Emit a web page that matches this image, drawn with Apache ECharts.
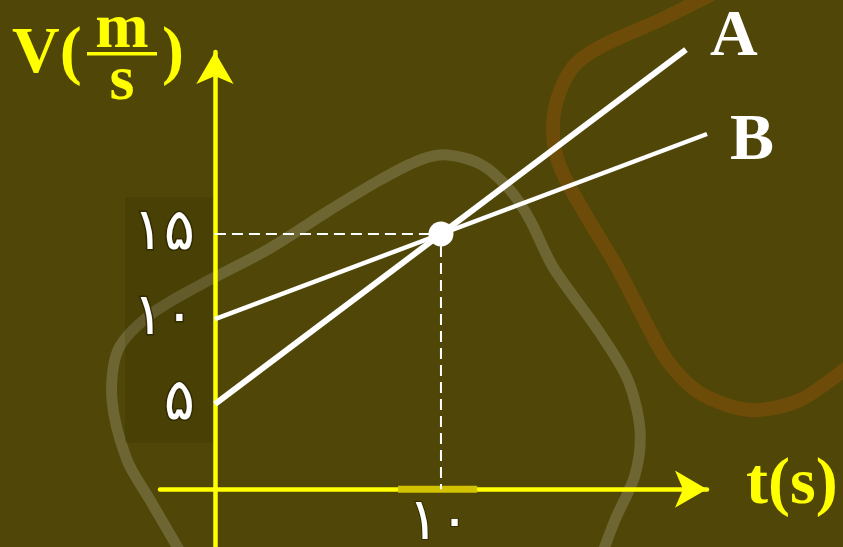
<!DOCTYPE html>
<html><head><meta charset="utf-8">
<script src="https://cdn.jsdelivr.net/npm/echarts@6/dist/echarts.min.js"></script>
<style>html,body{margin:0;padding:0;background:#4f4607;}#c{width:843px;height:547px;}</style>
</head><body><div id="c"></div>
<script>
// ---- data ----
const seriesNames = ['A', 'B'];
const lineA = [[0, 5], [20.84, 25.84]];
const lineB = [[0, 10], [21.77, 20.88]];
const meetPoint = [[10, 15]];
const guidePath = [[0, 15], [10, 15], [10, 0]];
const xHighlight = [[8.1, 0], [11.6, 0]];
const yTickValues = [5, 10, 15];
const yTickLabels = ['۵', '۱۰', '۱۵'];
const xTickValues = [10];
const xTickLabels = ['۱۰'];
const yAxisTitle = ['V(', 'm', 's', ')'];
const xAxisTitle = 't(s)';

const YEL = '#ffff00';
const serif = '"Liberation Serif", "Times New Roman", serif';
const digitFont = '"DejaVu Sans"';
const chart = echarts.init(document.getElementById('c'));

chart.setOption({
  animation: false,
  backgroundColor: '#4f4607',
  grid: { left: 160, right: 136, top: 52, bottom: 0, containLabel: false, outerBoundsMode: 'none' },
  xAxis: {
    type: 'value', min: -2.43, max: 21.77,
    splitLine: { show: false },
    axisLine: { onZero: true, symbol: ['none', 'arrow'], symbolSize: [28, 32],
      lineStyle: { color: YEL, width: 4.5 } },
    axisTick: { show: false },
    axisLabel: { show: false }
  },
  yAxis: {
    type: 'value', min: -3.4, max: 25.7,
    splitLine: { show: false },
    axisLine: { onZero: true, symbol: ['none', 'arrow'], symbolSize: [28, 32],
      lineStyle: { color: YEL, width: 4.5 } },
    axisTick: { show: false },
    axisLabel: {
      customValues: yTickValues,
      formatter: v => yTickLabels[yTickValues.indexOf(v)],
      color: '#ffffff', fontSize: 58, fontFamily: digitFont, margin: -35,
      textBorderColor: 'rgba(45,38,0,0.8)', textBorderWidth: 3
    }
  },
  graphic: [
    { id: 'deco1', type: 'polyline', z: -10, silent: true,
      shape: { smooth: 0.3, points: [[185,560],[150,500],[127,460],[112,400],[118,350],[150,315],[200,285],[267,250],[330,210],[380,180],[420,160],[448,155],[482,165],[510,190],[530,220],[553,267],[600,333],[628,380],[640,430],[635,475],[615,520],[600,560]] },
      style: { stroke: 'rgba(160,155,120,0.38)', lineWidth: 11, fill: null } },
    { id: 'deco2', type: 'polyline', z: -10, silent: true,
      shape: { smooth: 0.3, points: [[720,-10],[660,20],[600,47],[573,67],[557,100],[553,133],[560,167],[587,217],[617,267],[643,317],[667,360],[700,393],[750,410],[800,400],[850,365]] },
      style: { stroke: 'rgba(150,85,10,0.42)', lineWidth: 14, fill: null } },
    { id: 'deco3', type: 'rect', z: -9, silent: true, shape: { x: 125, y: 197, width: 88, height: 246 },
      style: { fill: 'rgba(40,34,0,0.15)' } },
    { id: 't1', type: 'text', style: { text: yAxisTitle[0], x: 12, y: 55, fill: YEL, font: 'bold 66px ' + serif, textAlign: 'left', textVerticalAlign: 'middle' } },
    { id: 't2', type: 'text', style: { text: yAxisTitle[1], x: 122, y: 30, fill: YEL, font: 'bold 64px ' + serif, textAlign: 'center', textVerticalAlign: 'middle' } },
    { id: 't3', type: 'rect', shape: { x: 87, y: 52, width: 70, height: 3.5 }, style: { fill: YEL } },
    { id: 't4', type: 'text', style: { text: yAxisTitle[2], x: 122, y: 82, fill: YEL, font: 'bold 64px ' + serif, textAlign: 'center', textVerticalAlign: 'middle' } },
    { id: 't5', type: 'text', style: { text: yAxisTitle[3], x: 162, y: 55, fill: YEL, font: 'bold 66px ' + serif, textAlign: 'left', textVerticalAlign: 'middle' } },
    { id: 't6', type: 'text', style: { text: xAxisTitle, x: 746, y: 486, fill: YEL, font: 'bold 66px ' + serif, textAlign: 'left', textVerticalAlign: 'middle' } }
  ],
  series: [
    { name: 'highlight', type: 'line', data: xHighlight, showSymbol: false, clip: false, z: 1,
      lineStyle: { color: '#d2c200', width: 7 } },
    { name: 'guide', type: 'line', data: guidePath, showSymbol: false, clip: false,
      lineStyle: { color: '#ffffff', width: 2, type: [11, 6] } },
    { name: seriesNames[0], type: 'line', data: lineA, showSymbol: false, clip: false,
      lineStyle: { color: '#ffffff', width: 6, cap: 'butt' },
      endLabel: { show: true, formatter: '{a}', distance: 0, offset: [24, -12],
        color: '#ffffff', fontSize: 66, fontWeight: 'bold', fontFamily: serif } },
    { name: seriesNames[1], type: 'line', data: lineB, showSymbol: false, clip: false,
      lineStyle: { color: '#ffffff', width: 4.5, cap: 'butt' },
      endLabel: { show: true, formatter: '{a}', distance: 0, offset: [23, 8],
        color: '#ffffff', fontSize: 66, fontWeight: 'bold', fontFamily: serif } },
    { name: 'meet', type: 'scatter', data: meetPoint, symbol: 'circle', symbolSize: 25, z: 5,
      itemStyle: { color: '#ffffff', opacity: 1 } }
  ]
});

// x tick labels placed through the chart's own scale
chart.setOption({
  graphic: xTickValues.map((v, i) => {
    const p = chart.convertToPixel({ gridIndex: 0 }, [v, 0]);
    return { id: 'xtick' + i, type: 'text', z: 10,
      style: { text: xTickLabels[i], x: p[0] - 2, y: p[1] + 35,
        fill: '#ffffff', font: '58px ' + digitFont, textAlign: 'center', textVerticalAlign: 'middle',
        stroke: 'rgba(45,38,0,0.8)', lineWidth: 2 } };
  })
});
</script></body></html>
